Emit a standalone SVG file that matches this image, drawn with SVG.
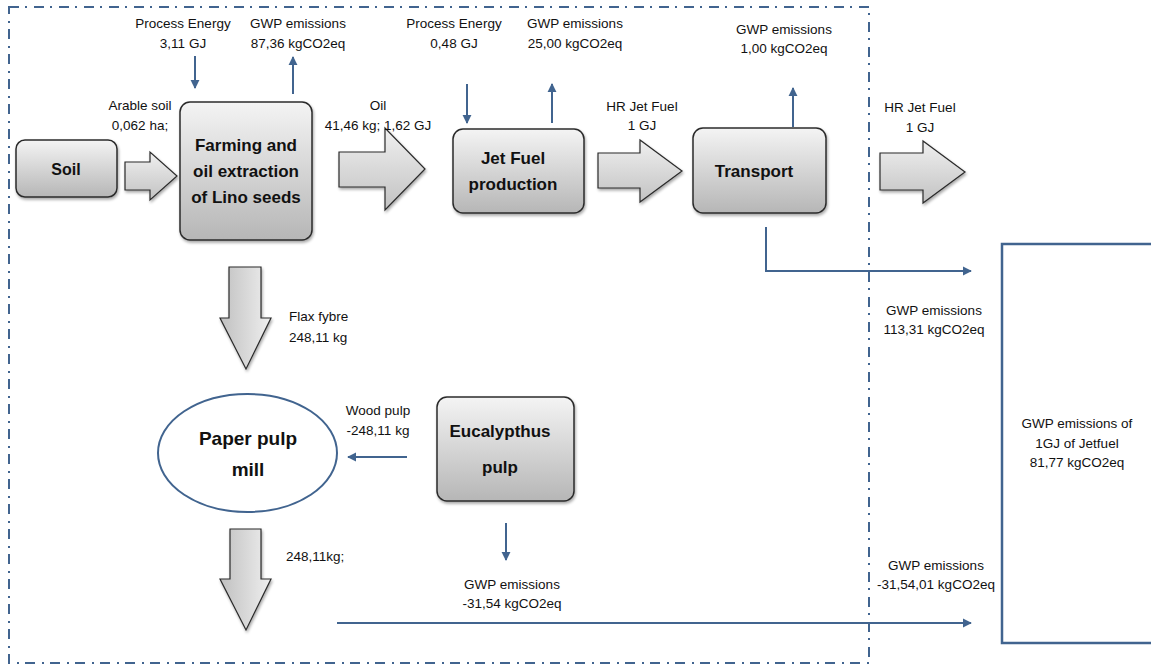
<svg xmlns="http://www.w3.org/2000/svg" width="1151" height="665" viewBox="0 0 1151 665">
<defs>
<linearGradient id="boxGrad" x1="0" y1="0" x2="0" y2="1">
<stop offset="0" stop-color="#f4f4f4"/>
<stop offset="1" stop-color="#b6b6b6"/>
</linearGradient>
<linearGradient id="hArrowGrad" x1="0" y1="0" x2="0" y2="1">
<stop offset="0" stop-color="#f0f0f0"/>
<stop offset="1" stop-color="#c2c2c2"/>
</linearGradient>
<linearGradient id="vArrowGrad" x1="0" y1="0" x2="1" y2="0">
<stop offset="0" stop-color="#c0c0c0"/>
<stop offset="1" stop-color="#efefef"/>
</linearGradient>
<filter id="shadow" x="-10%" y="-10%" width="130%" height="130%">
<feGaussianBlur in="SourceAlpha" stdDeviation="1.5"/>
<feOffset dx="1" dy="2" result="b"/>
<feComponentTransfer><feFuncA type="linear" slope="0.35"/></feComponentTransfer>
<feMerge><feMergeNode/><feMergeNode in="SourceGraphic"/></feMerge>
</filter>
<marker id="arr" viewBox="0 0 10 10" refX="9" refY="5" markerWidth="9" markerHeight="11" markerUnits="userSpaceOnUse" orient="auto">
<path d="M0,0 L10,5 L0,10 Z" fill="#41648f"/>
</marker>
</defs>
<style>
.box{fill:url(#boxGrad);stroke:#2b2b2b;stroke-width:1.5;filter:url(#shadow)}
.harrow{fill:url(#hArrowGrad);stroke:#2b2b2b;stroke-width:1.2;filter:url(#shadow)}
.varrow{fill:url(#vArrowGrad);stroke:#2b2b2b;stroke-width:1.2;filter:url(#shadow)}
.line{fill:none;stroke:#41648f;stroke-width:2}
.title{font-family:"Liberation Sans",Arial,sans-serif;font-weight:bold;font-size:17px;fill:#111;text-anchor:middle}
.lbl{font-family:"Liberation Sans",Arial,sans-serif;font-size:13.5px;fill:#111;text-anchor:middle}
.lbls{font-family:"Liberation Sans",Arial,sans-serif;font-size:13.5px;fill:#111}
</style>
<rect width="1151" height="665" fill="#ffffff"/>

<!-- system boundary -->
<g id="boundary">
<path d="M9,7 H869 V663 H9 Z" fill="none" stroke="#41648f" stroke-width="2" stroke-dasharray="10 6 2 7"/>
</g>

<!-- block arrows -->
<g id="flow-arrows">
<polygon class="harrow" points="125,162 150,162 150,152 177,176 150,200 150,190 125,190"/>
<polygon class="harrow" points="339,152 385,152 385,128 425,169 385,210 385,187 339,187"/>
<polygon class="harrow" points="598,153 640,153 640,140 682,171 640,202 640,188 598,188"/>
<polygon class="harrow" points="880,153 923,153 923,141 965,172 923,203 923,190 880,190"/>
<polygon class="varrow" points="229,267 261,267 261,318 271,318 246,369 220,318 229,318"/>
<polygon class="varrow" points="230,529 261,529 261,579 271,579 246,630 220,579 230,579"/>
</g>

<!-- nodes -->
<g id="node-soil">
<rect class="box" x="16" y="140" width="101" height="57" rx="9"/>
<text class="title" x="66" y="175" style="font-size:16px">Soil</text>
</g>
<g id="node-farming">
<rect class="box" x="180" y="102" width="132" height="138" rx="10"/>
<text class="title" x="246" y="151">Farming and</text>
<text class="title" x="246" y="177">oil extraction</text>
<text class="title" x="246" y="203">of Lino seeds</text>
</g>
<g id="node-jetfuel">
<rect class="box" x="453" y="129" width="131" height="84" rx="10"/>
<text class="title" x="513" y="164">Jet Fuel</text>
<text class="title" x="513" y="190">production</text>
</g>
<g id="node-transport">
<rect class="box" x="693" y="128" width="133" height="85" rx="10"/>
<text class="title" x="754" y="177">Transport</text>
</g>
<g id="node-papermill">
<ellipse cx="247.5" cy="453" rx="89.5" ry="59" fill="#ffffff" stroke="#41648f" stroke-width="2"/>
<text class="title" x="248" y="445" style="font-size:19px">Paper pulp</text>
<text class="title" x="248" y="476" style="font-size:19px">mill</text>
</g>
<g id="node-eucalyptus">
<rect class="box" x="437" y="397" width="137" height="104" rx="10"/>
<text class="title" x="500" y="437">Eucalypthus</text>
<text class="title" x="500" y="473">pulp</text>
</g>
<g id="node-result">
<path d="M1160,244 H1002 V643 H1160" fill="#ffffff" stroke="#41648f" stroke-width="2.5"/>
<text class="lbl" x="1077" y="428">GWP emissions of</text>
<text class="lbl" x="1077" y="448">1GJ of Jetfuel</text>
<text class="lbl" x="1077" y="467">81,77 kgCO2eq</text>
</g>

<!-- connectors -->
<g id="connectors">
<line class="line" x1="195" y1="56" x2="195" y2="88" marker-end="url(#arr)"/>
<line class="line" x1="293" y1="94" x2="293" y2="57" marker-end="url(#arr)"/>
<line class="line" x1="467" y1="84" x2="467" y2="123" marker-end="url(#arr)"/>
<line class="line" x1="552" y1="123" x2="552" y2="84" marker-end="url(#arr)"/>
<line class="line" x1="793" y1="127" x2="793" y2="88" marker-end="url(#arr)"/>
<path class="line" d="M766,227 V271 H971" marker-end="url(#arr)"/>
<line class="line" x1="407" y1="457" x2="348" y2="457" marker-end="url(#arr)"/>
<line class="line" x1="506" y1="523" x2="506" y2="560" marker-end="url(#arr)"/>
<line class="line" x1="337" y1="623" x2="971" y2="623" marker-end="url(#arr)"/>
</g>

<!-- labels -->
<g id="labels">
<text class="lbl" x="183" y="28">Process Energy</text>
<text class="lbl" x="183" y="48">3,11 GJ</text>
<text class="lbl" x="298" y="28">GWP emissions</text>
<text class="lbl" x="298" y="48">87,36 kgCO2eq</text>
<text class="lbl" x="454" y="28">Process Energy</text>
<text class="lbl" x="454" y="48">0,48 GJ</text>
<text class="lbl" x="575" y="28">GWP emissions</text>
<text class="lbl" x="575" y="48">25,00 kgCO2eq</text>
<text class="lbl" x="784" y="34">GWP emissions</text>
<text class="lbl" x="784" y="53">1,00 kgCO2eq</text>
<text class="lbl" x="140" y="110">Arable soil</text>
<text class="lbl" x="140" y="130">0,062 ha;</text>
<text class="lbl" x="378" y="110">Oil</text>
<text class="lbl" x="378" y="130">41,46 kg; 1,62 GJ</text>
<text class="lbl" x="642" y="111">HR Jet Fuel</text>
<text class="lbl" x="642" y="130">1 GJ</text>
<text class="lbl" x="920" y="112">HR Jet Fuel</text>
<text class="lbl" x="920" y="132">1 GJ</text>
<text class="lbl" x="934" y="315">GWP emissions</text>
<text class="lbl" x="934" y="334">113,31 kgCO2eq</text>
<text class="lbls" x="289" y="321">Flax fybre</text>
<text class="lbls" x="289" y="342">248,11 kg</text>
<text class="lbl" x="378" y="415">Wood pulp</text>
<text class="lbl" x="378" y="435">-248,11 kg</text>
<text class="lbls" x="286" y="561">248,11kg;</text>
<text class="lbl" x="512" y="589">GWP emissions</text>
<text class="lbl" x="512" y="608">-31,54 kgCO2eq</text>
<text class="lbl" x="936" y="570">GWP emissions</text>
<text class="lbl" x="936" y="589">-31,54,01 kgCO2eq</text>
</g>
</svg>
